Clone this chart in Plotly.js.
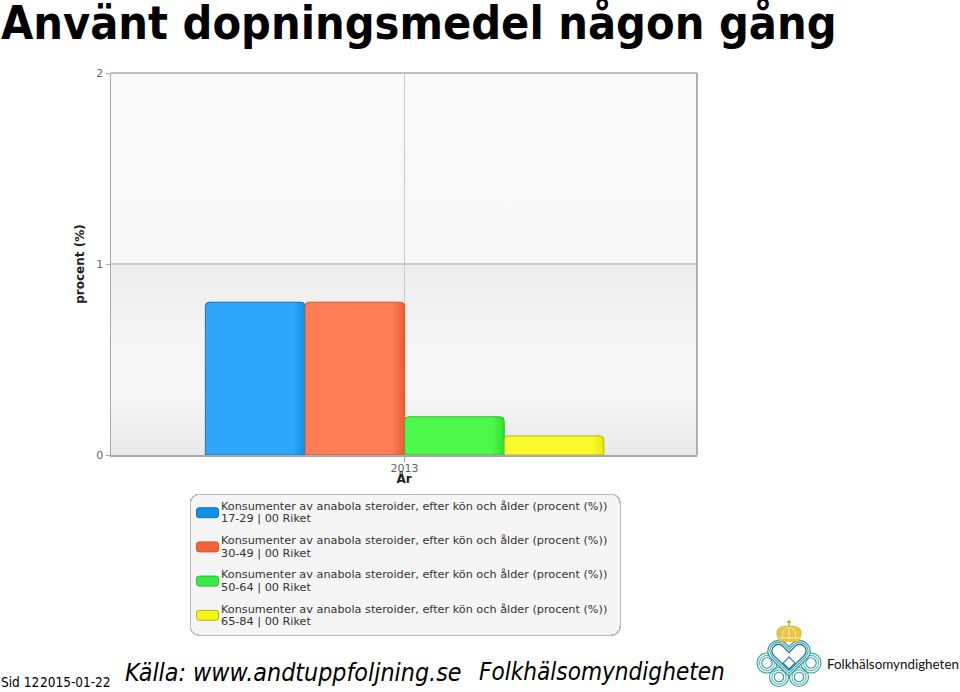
<!DOCTYPE html>
<html><head><meta charset="utf-8">
<script src="https://cdn.plot.ly/plotly-3.0.1.min.js"></script>
<style>html,body{margin:0;padding:0;background:#fff}#c{width:960px;height:692px}</style>
</head><body><div id="c"></div>
<script>
const categories = ["2013"];
const seriesNames = ["17-29 | 00 Riket","30-49 | 00 Riket","50-64 | 00 Riket","65-84 | 00 Riket"];
const measure = "Konsumenter av anabola steroider, efter kön och ålder (procent (%))";
const v1729 = [0.8], v3049 = [0.8], v5064 = [0.2], v6584 = [0.1];
const values = [v1729, v3049, v5064, v6584];
const fills = ["#2ea6fb","#fd7d56","#4cf84c","#fbfb2c"];
const edges = ["#1477bf","#d9532c","#35b935","#b5b520"];
const darks = ["#0f8fe8","#e85c30","#2fe02f","#e6e610"];
const swatches = ["#1090e8","#f4623a","#35ee45","#f5f516"];
const yTicks = [0,1,2];

const L=111,R=697,T=73,B=455;
const px=x=>(x-L)/(R-L), py=y=>(B-y)/(B-T);
const P=(cmds)=>cmds.replace(/([XY])(-?[\d.]+)/g,(m,a,n)=>a==='X'?px(+n).toFixed(5):py(+n).toFixed(5)).replace(/,\s*/g,' ');

const traces = values.map((y,i)=>({
  type:'bar', x:categories, y:y, name:measure+"<br>"+seriesNames[i],
  marker:{color:fills[i],line:{color:edges[i],width:1},cornerradius:4},
  hoverinfo:'none'
}));

function circ(cx,cy,r,col,w){return {type:'circle',xref:'paper',yref:'paper',x0:px(cx-r),x1:px(cx+r),y0:py(cy+r),y1:py(cy-r),line:{color:col,width:w},fillcolor:'rgba(0,0,0,0)',layer:'above'};}
function poly(d,col,fill,w){return {type:'path',xref:'paper',yref:'paper',path:P(d),line:{color:col,width:w},fillcolor:fill,layer:'above'};}
function heart(s){
  const cx=789,lc=778.5,cy=651,r=10.5-s,q=0.7071,k=4/3*r*q;
  const x0=lc-r*q,y0=cy+r*q,x1=lc+r*q,y1=cy-r*q;
  const m=x=>2*cx-x;
  const tip=676-1.414*s,notch=647+1.414*s;
  return `M X${cx},Y${tip} L X${x0},Y${y0} C X${x0-k},Y${y0-k} X${x1-k},Y${y1-k} X${x1},Y${y1} L X${cx},Y${notch} L X${m(x1)},Y${y1} C X${m(x1)+k},Y${y1-k} X${m(x0)+k},Y${y0-k} X${m(x0)},Y${y0} Z`;
}
const ring=(cx,cy,r)=>[circ(cx,cy,r,'#2a9d9c',1.1),circ(cx,cy,r-2.4,'#55bdb0',1.1),circ(cx,cy,r-4.8,'#2f8fb0',1.1)];
const logoShapes=[
  ...ring(767,663,10),...ring(811,663,10),...ring(779,677,9.5),...ring(799,677,9.5),
  poly(heart(0),'#2a9d9c','#ffffff',1.2),poly(heart(2),'#3aa8b0','rgba(0,0,0,0)',1.1),poly(heart(4),'#1f5f9e','rgba(0,0,0,0)',1.2),
  poly('M X789,Y657 L X795,Y663 L X789,Y669 L X783,Y663 Z','#2a7fa5','#ffffff',1.1),
  poly('M X779,Y641.5 L X777,Y635 C X775,Y628 X783,Y625 X789,Y626.5 C X795,Y625 X803,Y628 X801,Y635 L X799,Y641.5 Z','#d4ad30','#e8c547',0.6),
  poly('M X783,Y638 C X781,Y632 X785,Y628 X789,Y627 C X793,Y628 X797,Y632 X795,Y638 M X789,Y627 L X789,Y638 M X778,Y638 L X800,Y638','#fff3c4','rgba(0,0,0,0)',0.8),
  poly('M X789,Y620 L X789,Y627 M X787,Y622 L X791,Y622','#c9a227','rgba(0,0,0,0)',1.3)
];

const layout = {
  width:960,height:692,showlegend:true,
  title:{text:"Använt dopningsmedel någon gång",x:0.001,xref:'container',xanchor:'left',y:0.967,yref:'container',yanchor:'middle',
         font:{family:'"DejaVu Sans Condensed"',size:46.4,color:'#000',weight:700},pad:{l:0}},
  margin:{l:L,r:960-R,t:T,b:692-B,pad:0},
  paper_bgcolor:'#fff',plot_bgcolor:'#f8f8f8',
  barmode:'group',bargap:0.32,bargroupgap:0,
  font:{family:'"DejaVu Sans"'},
  xaxis:{type:'category',range:[-0.501,0.499],tickvals:categories,ticks:'outside',ticklen:5,tickcolor:'#999',tickwidth:1,ticklabelstandoff:-3,
    tickfont:{size:11,color:'#666'},showgrid:true,gridcolor:'#ccc',gridwidth:1,
    showline:true,linecolor:'#aaa',linewidth:1.5,mirror:false,zeroline:false,
    title:{text:"År",font:{size:12,color:'#222',weight:700},standoff:0}},
  yaxis:{range:[0,2],tickvals:yTicks,ticktext:yTicks.map(String),ticks:'outside',ticklen:4,tickcolor:'#aaa',tickwidth:1,
    tickfont:{size:11,color:'#666'},showgrid:true,gridcolor:'#ccc',gridwidth:1.5,
    showline:true,linecolor:'#aaa',linewidth:1.5,zeroline:false,
    title:{text:"procent (%)",font:{size:12,color:'#222',weight:700},standoff:9}},
  legend:{x:px(190),y:py(494),xanchor:'left',yanchor:'top',orientation:'v',traceorder:'normal',
    bgcolor:'#f5f5f5',bordercolor:'#bbb',borderwidth:1.5,font:{size:11.25,color:'#333',family:'"DejaVu Sans"'},itemwidth:30,itemclick:false,itemdoubleclick:false},
  shapes:[
    {type:'line',xref:'paper',yref:'paper',x0:0,x1:1,y0:1,y1:1,line:{color:'#aaa',width:1.5}},
    {type:'line',xref:'paper',yref:'paper',x0:1,x1:1,y0:0,y1:1,line:{color:'#b0b0b0',width:2}},
    ...logoShapes],
  annotations:[
    {xref:'paper',yref:'paper',x:px(-1),y:py(682),xanchor:'left',yanchor:'middle',showarrow:false,text:'Sid 12',font:{family:'"DejaVu Sans Condensed"',size:13.5,color:'#000'}},
    {xref:'paper',yref:'paper',x:px(37.5),y:py(682),xanchor:'left',yanchor:'middle',showarrow:false,text:'2015-01-22',font:{family:'"DejaVu Sans Condensed"',size:13.5,color:'#000'}},
    {xref:'paper',yref:'paper',x:px(123),y:py(672),xanchor:'left',yanchor:'middle',showarrow:false,text:'<i>Källa: www.andtuppfoljning.se</i>',font:{family:'"DejaVu Sans Condensed"',size:24.8,color:'#000'}},
    {xref:'paper',yref:'paper',x:px(477),y:py(672),xanchor:'left',yanchor:'middle',showarrow:false,text:'<i>Folkhälsomyndigheten</i>',font:{family:'"DejaVu Sans Condensed"',size:24.1,color:'#000'}},
    {xref:'paper',yref:'paper',x:px(824.5),y:py(664),xanchor:'left',yanchor:'middle',showarrow:false,text:'Folkhälsomyndigheten',font:{family:'Lato',size:13.4,color:'#111'}}
  ]
};

Plotly.newPlot('c',traces,layout,{staticPlot:true,displayModeBar:false}).then(gd=>{
  const svg=gd.querySelector('svg.main-svg'), NS='http://www.w3.org/2000/svg';
  const defs=svg.querySelector('defs');
  function grad(id,vertical,stops){
    const g=document.createElementNS(NS,'linearGradient');g.setAttribute('id',id);
    g.setAttribute('x1','0');g.setAttribute('y1','0');g.setAttribute('x2',vertical?'0':'1');g.setAttribute('y2',vertical?'1':'0');
    stops.forEach(([o,c])=>{const s=document.createElementNS(NS,'stop');s.setAttribute('offset',o);s.setAttribute('stop-color',c);g.appendChild(s);});
    defs.appendChild(g);
  }
  grad('plotG',true,[[0,'#f9f9f9'],[0.5,'#f8f8f8'],[0.501,'#ededed'],[0.6,'#f1f1f1'],[0.71,'#f6f6f6'],[0.84,'#f7f7f7'],[0.92,'#f0f0f0'],[1,'#e9e9e9']]);
  const bg=gd.querySelector('.plotbg rect, .bglayer .bg'); if(bg){bg.style.fill='url(#plotG)';}
  gd.querySelectorAll('.barlayer .trace').forEach((t,i)=>{
    grad('barG'+i,false,[[0,fills[i]],[0.88,fills[i]],[1,darks[i]]]);
    t.querySelectorAll('path').forEach(p=>{p.style.fill='url(#barG'+i+')';});
  });
  // the axis title sits close under the tick label, as in the source chart
  const xt=gd.querySelector('.xtitle'); if(xt){xt.setAttribute('y',(+xt.getAttribute('y')-4));}
  // legend geometry
  const lg=gd.querySelector('g.legend');
  lg.setAttribute('transform','translate(189.5,493.5)');
  const lb=lg.querySelector('.bg');
  lb.setAttribute('x',0.75);lb.setAttribute('y',0.75);lb.setAttribute('width',430);lb.setAttribute('height',141);lb.setAttribute('rx',9);lb.setAttribute('ry',9);
  const sb=lg.querySelector('.scrollbox'); if(sb){sb.removeAttribute('clip-path');}
  lg.querySelectorAll('.traces').forEach((t,i)=>{
    const text=t.querySelector('text.legendtext');
    const lines=text.querySelectorAll('tspan.line');
    if(lines.length>1){ lines[1].setAttribute('dy','12.5'); }
    const r=text.getBoundingClientRect();
    text.setAttribute('transform',`translate(${221-r.left},${512.4+34.4*i-(r.top+r.bottom)/2})`);
    const sw=t.querySelector('.legendpoints path');
    sw.setAttribute('d','M-8.5,-5H8.5Q11,-5 11,-2.5V2.5Q11,5 8.5,5H-8.5Q-11,5 -11,2.5V-2.5Q-11,-5 -8.5,-5Z');
    sw.removeAttribute('transform');
    const q=sw.getBoundingClientRect();
    sw.setAttribute('transform',`translate(${207.5-(q.left+q.right)/2},${512.7+34.2*i-(q.top+q.bottom)/2})`);
    sw.style.fill=swatches[i];sw.style.stroke=edges[i];sw.style.strokeWidth='1px';
  });
});
</script></body></html>
